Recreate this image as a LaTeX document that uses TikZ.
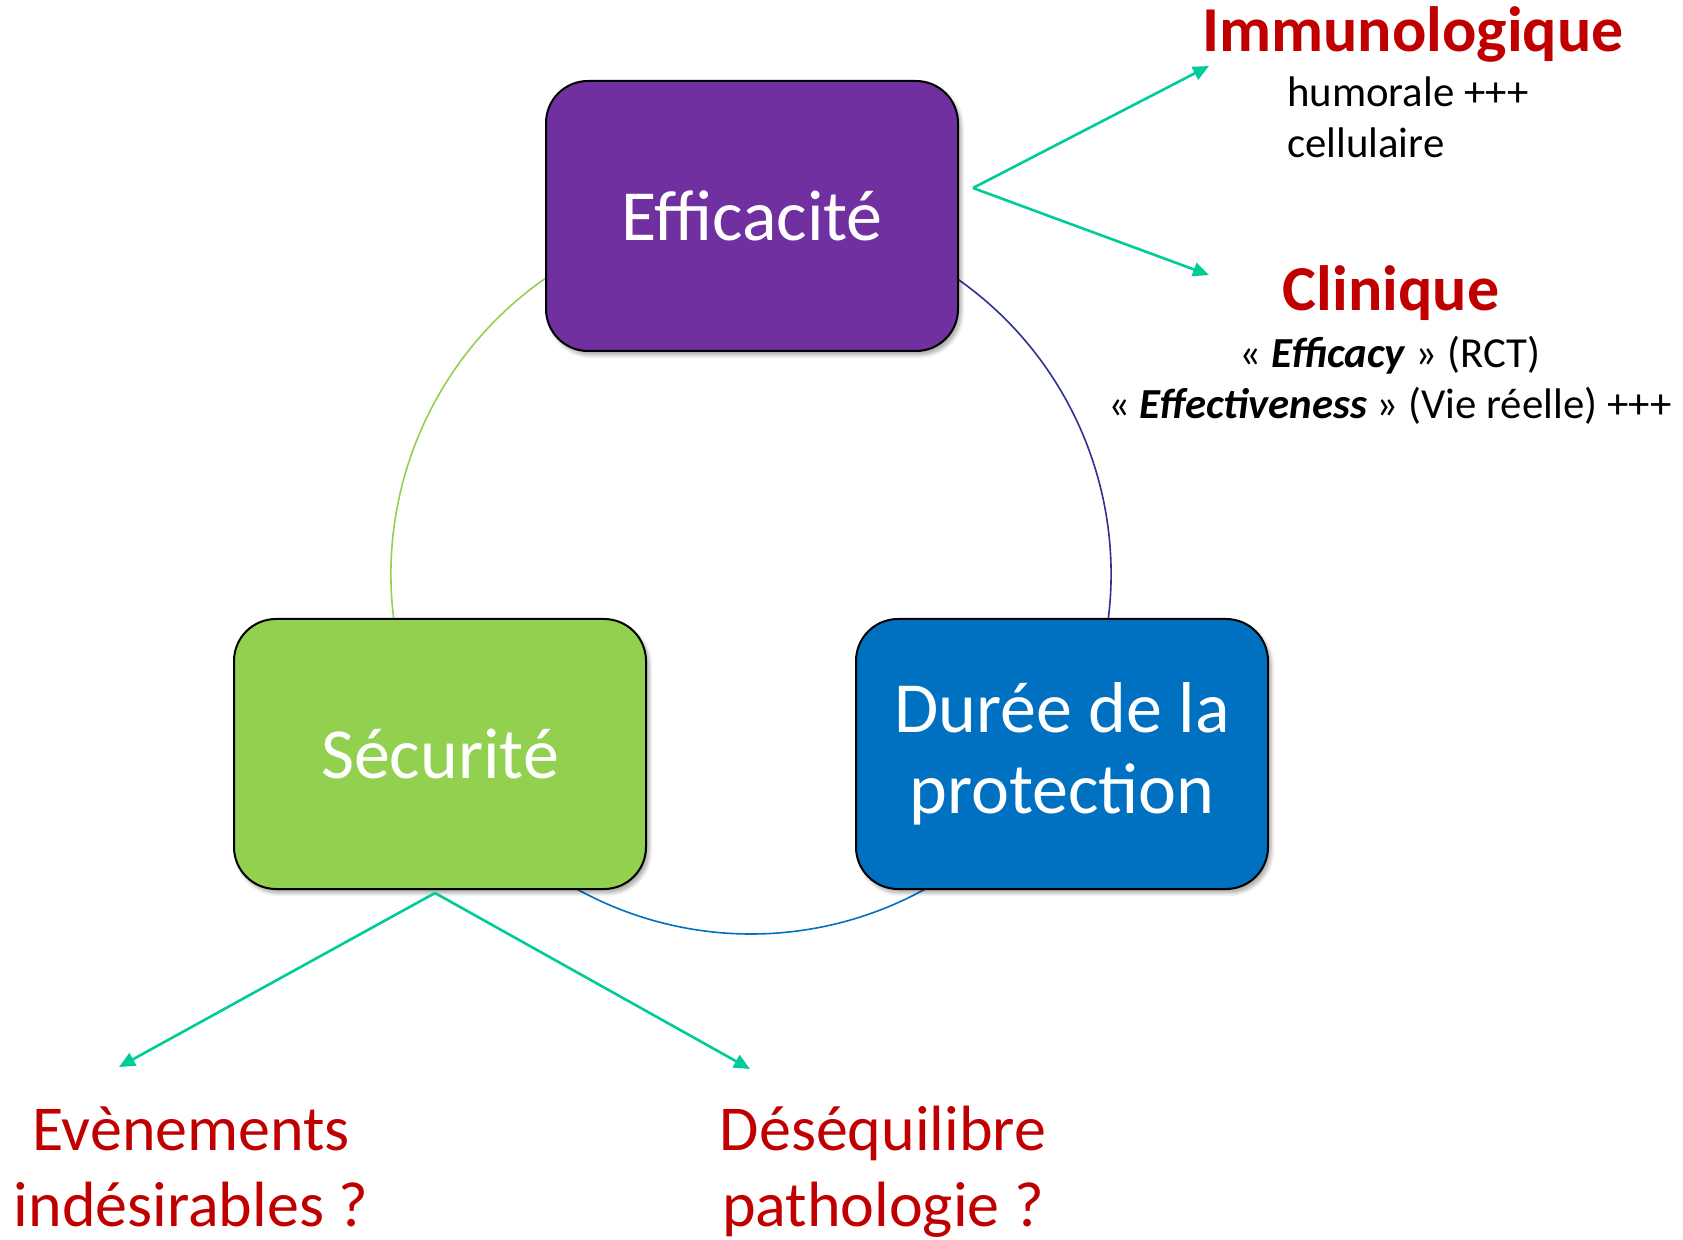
\documentclass[tikz,border=0pt]{standalone}
\usepackage{fontspec}
\setmainfont{Carlito}
\usetikzlibrary{arrows.meta,positioning,shadows.blur}

\definecolor{effviolet}{HTML}{7030A0}
\definecolor{secvert}{HTML}{92D050}
\definecolor{durbleu}{HTML}{0070C0}
\definecolor{arcmarine}{HTML}{2E3192}
\definecolor{fleche}{HTML}{00CC99}
\definecolor{rouge}{HTML}{C00000}

\begin{document}
\begin{tikzpicture}[x=0.5pt, y=0.5pt,
  bloc/.style={draw=black, line width=1pt, rounded corners=21pt,
               minimum width=206pt, minimum height=135pt, align=center,
               text=white, font=\fontsize{36}{40.5}\selectfont,
               blur shadow={shadow xshift=1.5pt, shadow yshift=-2pt,
                            shadow blur steps=6, shadow opacity=35}},
  fl/.style={draw=fleche, line width=1.3pt, -{Triangle[length=8pt,width=7pt]}},
  anneau/.style={line width=0.8pt},
  titre/.style={text=rouge, font=\bfseries\fontsize{32}{38}\selectfont},
  detail/.style={font=\fontsize{21.4}{25.5}\selectfont, align=center},
  risque/.style={text=rouge, font=\fontsize{32}{38}\selectfont, align=center}]
  \useasboundingbox (0,0) rectangle (1683,1239);

  % cercle entre les trois blocs (les bouts passent sous les blocs)
  \coordinate (ring) at (751,665);
  \draw[anneau, secvert]   (ring) ++(110:360) arc[start angle=110, end angle=200, radius=360];
  \draw[anneau, arcmarine] (ring) ++(70:360)  arc[start angle=70, end angle=-20, radius=360];
  \draw[anneau, durbleu]   (ring) ++(220:360) arc[start angle=220, end angle=320, radius=360];

  % blocs
  \node[bloc, fill=effviolet] (eff) at (752,1023) {Efficacité};
  \node[bloc, fill=secvert] (secu) at (440,485) {Sécurité};
  \node[bloc, fill=durbleu, right=104pt of secu] (duree) {Durée de la\\protection};

  % efficacité : immunologique / clinique
  % (base = ligne de base de la derniere ligne)
  \node[titre, anchor=base] (immuno) at (1413,1187) {Immunologique};
  \node[detail, align=left, anchor=base west] (humor) at (1280,1081) {humorale +++\\cellulaire};
  \node[titre, anchor=base] (clin) at (1391,928) {Clinique};
  \node[detail, anchor=base] (rct) at (1390,820)
    {« \textbf{\textit{Efficacy}} » (RCT)\\« \textbf{\textit{Effectiveness}} » (Vie réelle) +++};

  \coordinate (fourche) at (973,1051);
  \coordinate (versimmuno) at (1209,1173);
  \coordinate (versclin) at (1209,964);
  \draw[fl] (fourche) -- (versimmuno);
  \draw[fl] (fourche) -- (versclin);

  % sécurité : effets indésirables / déséquilibre
  \node[risque, anchor=base] (ei) at (191,13) {Evènements\\indésirables ?};
  \node[risque, anchor=base] (deseq) at (883,13) {Déséquilibre\\pathologie ?};

  \coordinate (sourcesecu) at (435,346);
  \coordinate (versei) at (119,172);
  \coordinate (versdeseq) at (750,170);
  \draw[fl] (sourcesecu) -- (versei);
  \draw[fl] (sourcesecu) -- (versdeseq);
\end{tikzpicture}
\end{document}
